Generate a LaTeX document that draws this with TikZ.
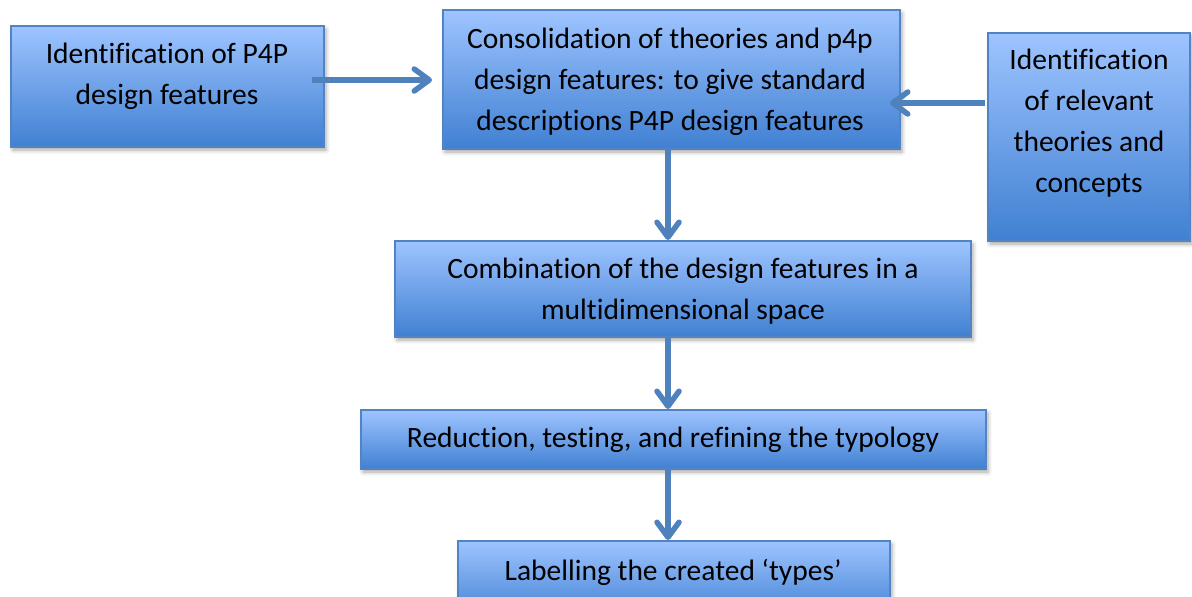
\documentclass[tikz,border=0pt]{standalone}
\usepackage{fontspec}
\setmainfont[Ligatures=NoCommon]{Carlito}
\usetikzlibrary{arrows.meta,shadows.blur}
\definecolor{boxtop}{RGB}{158,196,255}
\definecolor{boxbot}{RGB}{64,128,210}
\definecolor{boxline}{RGB}{82,132,196}
\definecolor{arrowc}{RGB}{79,129,189}
\begin{document}
\begin{tikzpicture}[x=1pt,y=-1pt,
  stage/.style={draw=boxline, line width=1.5pt, top color=boxtop, bottom color=boxbot,
    inner sep=0pt, outer sep=0pt,
    blur shadow={shadow xshift=2pt, shadow yshift=-3pt, shadow blur radius=4pt, shadow opacity=35}},
  caption/.style={align=center, inner sep=0pt, font=\fontsize{29.5}{41}\selectfont},
  flow/.style={draw=arrowc, line width=5.5pt, -{Straight Barb[length=15pt, width=22pt, round]}}]
\useasboundingbox (0,0) rectangle (1192,597);
\clip (0,0) rectangle (1192,597);

% process boxes
\node[stage, minimum width=313pt, minimum height=121pt] (b1) at (167.5,86.5) {};
\node[stage, minimum width=457pt, minimum height=139pt] (b2) at (671.5,79.5) {};
\node[stage, minimum width=202pt, minimum height=208pt] (b3) at (1089,137) {};
\node[stage, minimum width=576pt, minimum height=96pt] (b4) at (683,289) {};
\node[stage, minimum width=625pt, minimum height=59pt] (b5) at (673.5,439.5) {};
\node[stage, minimum width=432pt, minimum height=80pt] (b6) at (674,581) {};

% box texts
\node[caption] (t1) at (167,76) {Identification of P4P\\design features};
\node[caption] (t2) at (670,81.5) {Consolidation of theories and p4p\\design features: to give standard\\descriptions P4P design features};
\node[caption] (t3) at (1089,123.5) {Identification\\of relevant\\theories and\\concepts};
\node[caption] (t4) at (683,291) {Combination of the design features in a\\multidimensional space};
\node[caption] (t5) at (673,440) {Reduction, testing, and refining the typology};
\node[caption] (t6) at (673,572) {Labelling the created ‘types’};

% connectors
\coordinate (spine) at (668,0);
\draw[flow] ([xshift=-12pt,yshift=6.5pt]b1.east) -- ([xshift=-11pt,yshift=-0.5pt]b2.west);
\draw[flow] ([xshift=-3pt,yshift=34pt]b3.west) -- ([xshift=-10pt,yshift=-23.5pt]b2.east);
\draw[flow] (spine |- b2.south) -- ([yshift=1pt]spine |- b4.north);
\draw[flow] (spine |- b4.south) -- ([yshift=1pt]spine |- b5.north);
\draw[flow] (spine |- b5.south) -- ([yshift=1pt]spine |- b6.north);
\end{tikzpicture}
\end{document}
